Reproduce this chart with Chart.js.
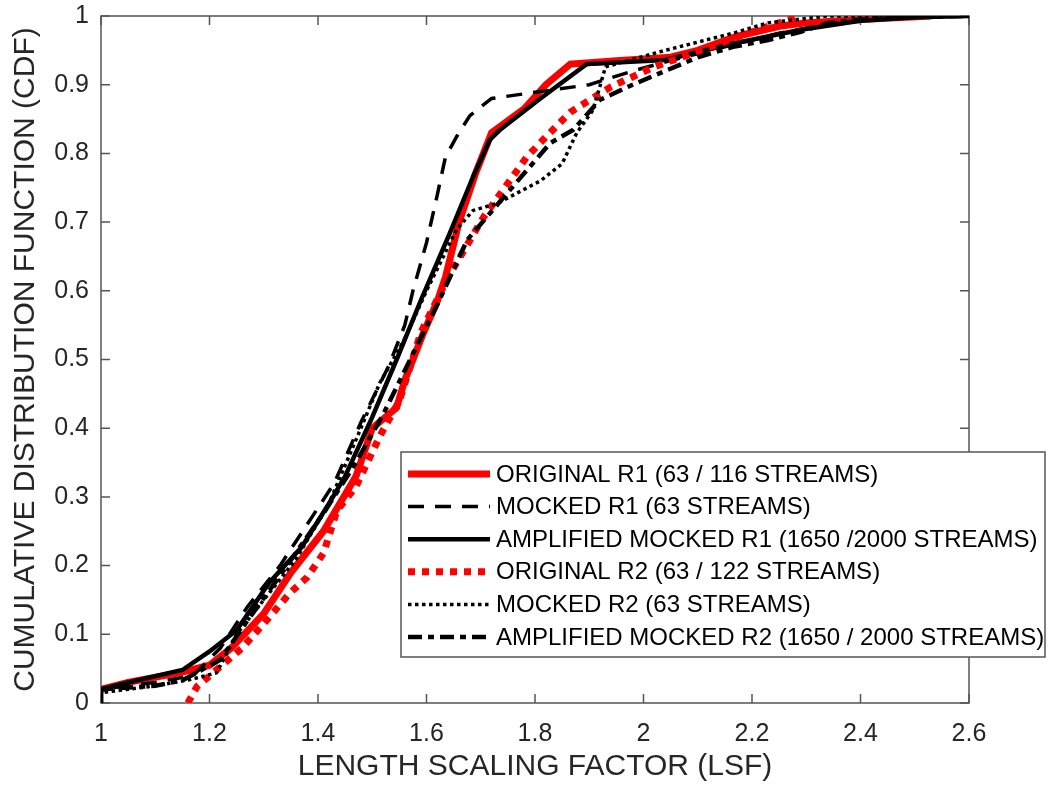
<!DOCTYPE html>
<html>
<head>
<meta charset="utf-8">
<script src="https://cdn.jsdelivr.net/npm/chart.js@4.4.1/dist/chart.umd.min.js"></script>
<style>
  body { margin: 0; background: #fff; }
  #wrap { width: 1056px; height: 786px; }
</style>
</head>
<body>
<div id="wrap"><canvas id="cdfChart" width="1056" height="786"></canvas></div>
<script>
// series labels (legend order)
const seriesNames = [
  'ORIGINAL R1 (63 / 116 STREAMS)',
  'MOCKED R1 (63 STREAMS)',
  'AMPLIFIED MOCKED R1 (1650 /2000 STREAMS)',
  'ORIGINAL R2 (63 / 122 STREAMS)',
  'MOCKED R2 (63 STREAMS)',
  'AMPLIFIED MOCKED R2 (1650 / 2000 STREAMS)'
];

// values (x = LSF, y = CDF)
const origR1X = [1.0, 1.05, 1.15, 1.2, 1.24, 1.3, 1.35, 1.41, 1.44, 1.47, 1.5, 1.545, 1.56, 1.595, 1.62, 1.635, 1.66, 1.69, 1.72, 1.78, 1.82, 1.865, 1.95, 2.05, 2.1, 2.17, 2.25, 2.3, 2.4, 2.53];
const origR1Y = [0.02, 0.03, 0.045, 0.055, 0.08, 0.13, 0.19, 0.25, 0.29, 0.33, 0.40, 0.43, 0.47, 0.54, 0.585, 0.62, 0.70, 0.77, 0.83, 0.865, 0.90, 0.93, 0.935, 0.94, 0.95, 0.97, 0.985, 0.99, 0.995, 1.0];

const mockR1X = [1.0, 1.0, 1.1, 1.17, 1.22, 1.27, 1.33, 1.38, 1.43, 1.48, 1.53, 1.56, 1.575, 1.6, 1.62, 1.635, 1.656, 1.68, 1.72, 1.81, 1.9, 1.98, 2.05, 2.15, 2.25, 2.35, 2.45, 2.6];
const mockR1Y = [0.0, 0.02, 0.03, 0.04, 0.08, 0.14, 0.2, 0.26, 0.32, 0.41, 0.49, 0.55, 0.6, 0.67, 0.74, 0.795, 0.825, 0.855, 0.88, 0.89, 0.9, 0.92, 0.935, 0.955, 0.975, 0.99, 0.997, 1.0];

const ampR1X = [1.0, 1.0, 1.04, 1.15, 1.2, 1.25, 1.31, 1.37, 1.42, 1.45, 1.5, 1.545, 1.59, 1.643, 1.686, 1.717, 1.735, 1.81, 1.895, 2.04, 2.165, 2.29, 2.4, 2.5, 2.6];
const ampR1Y = [0.0, 0.02, 0.028, 0.048, 0.075, 0.106, 0.175, 0.227, 0.29, 0.33, 0.416, 0.50, 0.587, 0.684, 0.766, 0.82, 0.834, 0.88, 0.93, 0.936, 0.96, 0.98, 0.993, 0.998, 1.0];

const origR2X = [1.16, 1.177, 1.22, 1.26, 1.305, 1.348, 1.38, 1.41, 1.435, 1.47, 1.515, 1.55, 1.59, 1.64, 1.705, 1.785, 1.82, 1.865, 1.94, 2.02, 2.07, 2.14, 2.23, 2.29];
const origR2Y = [0.0, 0.024, 0.053, 0.08, 0.12, 0.16, 0.183, 0.218, 0.28, 0.315, 0.39, 0.44, 0.54, 0.62, 0.707, 0.795, 0.824, 0.86, 0.897, 0.926, 0.94, 0.96, 0.985, 1.0];

const mockR2X = [1.0, 1.0, 1.1, 1.164, 1.213, 1.25, 1.3, 1.36, 1.42, 1.47, 1.514, 1.56, 1.6, 1.625, 1.656, 1.686, 1.73, 1.81, 1.85, 1.877, 1.907, 1.93, 2.04, 2.165, 2.23, 2.34, 2.45, 2.6];
const mockR2Y = [0.0, 0.015, 0.025, 0.034, 0.044, 0.10, 0.15, 0.21, 0.29, 0.383, 0.466, 0.53, 0.6, 0.64, 0.69, 0.717, 0.727, 0.76, 0.785, 0.83, 0.863, 0.926, 0.95, 0.975, 0.99, 1.0, 1.0, 1.0];

const ampR2X = [1.0, 1.0, 1.1, 1.15, 1.22, 1.27, 1.325, 1.41, 1.47, 1.52, 1.57, 1.62, 1.675, 1.754, 1.828, 1.87, 1.92, 1.98, 2.04, 2.1, 2.165, 2.23, 2.29, 2.34, 2.44, 2.6];
const ampR2Y = [0.0, 0.02, 0.025, 0.033, 0.063, 0.12, 0.18, 0.276, 0.35, 0.42, 0.5, 0.58, 0.674, 0.747, 0.815, 0.834, 0.878, 0.90, 0.92, 0.94, 0.955, 0.965, 0.977, 0.99, 0.998, 1.0];

const FONT = '"Liberation Sans", Arial, sans-serif';
const TEXT = '#262626';
const AXIS = '#555555';

function pts(xs, ys) {
  return xs.map((x, i) => ({ x: x, y: ys[i] }));
}

const styles = [
  { color: '#ff0000', width: 7, dash: [] },
  { color: '#000000', width: 3.5, dash: [16, 11] },
  { color: '#000000', width: 4.5, dash: [] },
  { color: '#ff0000', width: 7, dash: [7, 7] },
  { color: '#000000', width: 3.5, dash: [3.5, 3.5] },
  { color: '#000000', width: 4.5, dash: [14, 6, 6, 6] }
];
const allX = [origR1X, mockR1X, ampR1X, origR2X, mockR2X, ampR2X];
const allY = [origR1Y, mockR1Y, ampR1Y, origR2Y, mockR2Y, ampR2Y];

const datasets = seriesNames.map((name, i) => ({
  label: name,
  data: pts(allX[i], allY[i]),
  showLine: true,
  borderColor: styles[i].color,
  borderWidth: styles[i].width,
  borderDash: styles[i].dash,
  pointRadius: 0,
  tension: 0,
  fill: false,
  order: 5 - i
}));

// box with inward ticks on all four sides
const framePlugin = {
  id: 'frame',
  beforeDatasetsDraw(chart) {
    const { ctx, chartArea: a, scales } = chart;
    ctx.save();
    ctx.strokeStyle = AXIS;
    ctx.lineWidth = 1.5;
    ctx.strokeRect(a.left, a.top, a.right - a.left, a.bottom - a.top);
    const len = 9;
    ctx.beginPath();
    scales.x.ticks.forEach(t => {
      const px = scales.x.getPixelForValue(t.value);
      ctx.moveTo(px, a.bottom); ctx.lineTo(px, a.bottom - len);
      ctx.moveTo(px, a.top); ctx.lineTo(px, a.top + len);
    });
    scales.y.ticks.forEach(t => {
      const py = scales.y.getPixelForValue(t.value);
      ctx.moveTo(a.left, py); ctx.lineTo(a.left + len, py);
      ctx.moveTo(a.right, py); ctx.lineTo(a.right - len, py);
    });
    ctx.stroke();
    ctx.restore();
  }
};

// legend box drawn inside the plot like matlab
const boxLegend = {
  id: 'boxLegend',
  afterDraw(chart) {
    const ctx = chart.ctx;
    const bx = 401, by = 452, bw = 644, bh = 205;
    ctx.save();
    ctx.fillStyle = '#fff';
    ctx.fillRect(bx, by, bw, bh);
    ctx.strokeStyle = AXIS;
    ctx.lineWidth = 1.5;
    ctx.strokeRect(bx, by, bw, bh);
    ctx.font = '24px ' + FONT;
    ctx.textBaseline = 'middle';
    chart.data.datasets.forEach((ds, i) => {
      const y = by + 22 + i * 32.6;
      ctx.beginPath();
      ctx.strokeStyle = ds.borderColor;
      ctx.lineWidth = ds.borderWidth;
      ctx.setLineDash(ds.borderDash);
      ctx.moveTo(408, y);
      ctx.lineTo(490, y);
      ctx.stroke();
      ctx.setLineDash([]);
      ctx.fillStyle = '#000';
      ctx.fillText(ds.label, 496, y + 1);
    });
    ctx.restore();
  }
};

const fmt = v => String(Math.round(v * 10) / 10);

new Chart(document.getElementById('cdfChart'), {
  type: 'scatter',
  data: { datasets: datasets },
  plugins: [framePlugin, boxLegend],
  options: {
    responsive: false,
    animation: false,
    layout: { padding: { left: 0, top: 16, right: 87, bottom: 0 } },
    plugins: {
      legend: { display: false },
      tooltip: { enabled: false }
    },
    scales: {
      x: {
        type: 'linear',
        min: 1,
        max: 2.6,
        afterFit(scale) {
          scale.height = 83;
          scale.paddingLeft = 0;
          scale.paddingRight = 0;
        },
        grid: { display: false, drawTicks: false },
        border: { display: false },
        ticks: {
          stepSize: 0.2,
          padding: 16,
          color: TEXT,
          callback: fmt,
          font: { family: FONT, size: 25 }
        },
        title: {
          display: true,
          text: 'LENGTH SCALING FACTOR (LSF)',
          color: TEXT,
          font: { family: FONT, size: 30 },
          padding: { top: 0, bottom: 1 }
        }
      },
      y: {
        min: 0,
        max: 1,
        afterFit(scale) {
          scale.width = 101;
          scale.paddingTop = 0;
          scale.paddingBottom = 0;
        },
        grid: { display: false, drawTicks: false },
        border: { display: false },
        ticks: {
          stepSize: 0.1,
          padding: 12,
          color: TEXT,
          callback: fmt,
          font: { family: FONT, size: 25 }
        },
        title: {
          display: true,
          text: 'CUMULATIVE DISTRIBUTION FUNCTION (CDF)',
          color: TEXT,
          font: { family: FONT, size: 30 },
          padding: { top: 8, bottom: 0 }
        }
      }
    }
  }
});
</script>
</body>
</html>
